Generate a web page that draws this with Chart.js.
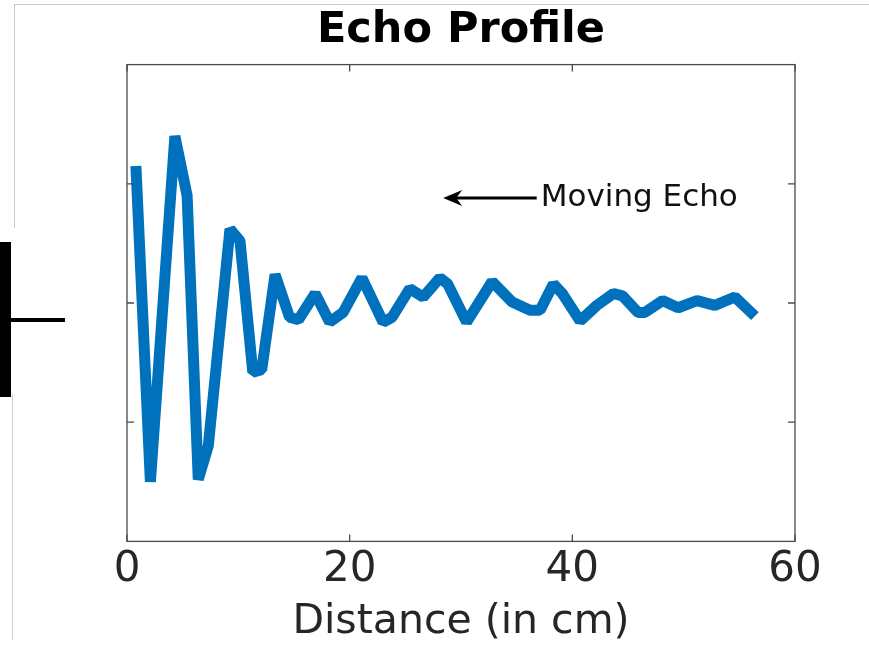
<!DOCTYPE html>
<html>
<head>
<meta charset="utf-8">
<title>Echo Profile</title>
<script src="https://cdn.jsdelivr.net/npm/chart.js@4.4.1/dist/chart.umd.min.js"></script>
<style>
  html, body { margin: 0; padding: 0; background: #fff; }
  #wrap { position: relative; width: 869px; height: 647px; overflow: hidden; }
  #echoChart { position: absolute; left: 0; top: 0; }
  .deco { position: absolute; }
</style>
</head>
<body>
<div id="wrap">
  <canvas id="echoChart" width="869" height="647"></canvas>
  <!-- bords du cadre voisin, à gauche -->
  <div class="deco" style="left:14px; top:4px; width:855px; height:1px; background:#c9c9c9;"></div>
  <div class="deco" style="left:14px; top:4px; width:1px; height:224px; background:#c9c9c9;"></div>
  <div class="deco" style="left:12px; top:394px; width:1px; height:246px; background:#cfcfcf;"></div>
  <div class="deco" style="left:0; top:242px; width:11px; height:155px; background:#000;"></div>
  <div class="deco" style="left:0; top:318px; width:65px; height:4px; background:#000;"></div>
</div>
<script>
// Données du profil d'écho
const distance = [0.8, 2.1, 4.3, 5.4, 6.4, 7.3, 9.25, 10.15, 11.3, 12.1, 13.3, 14.6, 15.4, 16.9, 18.2, 19.4,
  21.1, 23.0, 23.8, 25.4, 26.6, 28.1, 28.8, 30.5, 32.8, 34.6, 36.2, 37.1, 38.3, 39.1, 40.7, 42.2,
  43.7, 44.5, 45.9, 46.5, 48.1, 49.5, 51.2, 52.8, 54.6, 56.4];
const echo = [0.575, -0.75, 0.70, 0.45, -0.74, -0.60, 0.31, 0.26, -0.29, -0.28, 0.12, -0.06, -0.07, 0.04, -0.08, -0.04,
  0.105, -0.08, -0.06, 0.06, 0.025, 0.105, 0.08, -0.08, 0.09, 0.004, -0.03, -0.03, 0.08, 0.04, -0.075, -0.01,
  0.04, 0.03, -0.04, -0.04, 0.01, -0.02, 0.01, -0.01, 0.025, -0.055];

// Graduations
const xTicks = [0, 20, 40, 60];
const yTicks = [-0.5, 0, 0.5];

// Annotation "Moving Echo" (en unités des axes)
const arrowTail = [36.8, 0.44];
const arrowTip = [28.4, 0.44];
const arrowLabel = 'Moving Echo';

Chart.defaults.font.family = 'DejaVu Sans';

// Cadre et graduations vers l'intérieur, plus la flèche
const cadre = {
  id: 'cadre',
  afterDraw(chart) {
    const { ctx, chartArea: a, scales: { x, y } } = chart;
    ctx.save();
    ctx.strokeStyle = '#4a4a4a';
    ctx.lineWidth = 1.3;
    ctx.strokeRect(a.left, a.top, a.right - a.left, a.bottom - a.top);
    ctx.beginPath();
    xTicks.forEach(v => {
      const px = x.getPixelForValue(v);
      ctx.moveTo(px, a.bottom); ctx.lineTo(px, a.bottom - 7);
      ctx.moveTo(px, a.top); ctx.lineTo(px, a.top + 7);
    });
    yTicks.forEach(v => {
      const py = y.getPixelForValue(v);
      ctx.moveTo(a.left, py); ctx.lineTo(a.left + 7, py);
      ctx.moveTo(a.right, py); ctx.lineTo(a.right - 7, py);
    });
    ctx.stroke();

    // flèche
    const x0 = x.getPixelForValue(arrowTail[0]);
    const x1 = x.getPixelForValue(arrowTip[0]);
    const yy = y.getPixelForValue(arrowTip[1]);
    ctx.strokeStyle = '#000';
    ctx.fillStyle = '#000';
    ctx.lineWidth = 3;
    ctx.beginPath();
    ctx.moveTo(x0, yy);
    ctx.lineTo(x1 + 8, yy);
    ctx.stroke();
    ctx.beginPath();
    ctx.moveTo(x1, yy);
    ctx.lineTo(x1 + 19, yy - 8);
    ctx.lineTo(x1 + 13, yy);
    ctx.lineTo(x1 + 19, yy + 8);
    ctx.closePath();
    ctx.fill();

    ctx.font = '31px "DejaVu Sans"';
    ctx.textBaseline = 'alphabetic';
    ctx.textAlign = 'left';
    ctx.fillStyle = '#111';
    ctx.fillText(arrowLabel, x0 + 4, yy + 8);
    ctx.restore();
  }
};

const ctx = document.getElementById('echoChart').getContext('2d');
new Chart(ctx, {
  type: 'scatter',
  data: {
    datasets: [{
      label: 'Echo',
      data: distance.map((d, i) => ({ x: d, y: echo[i] })),
      showLine: true,
      borderColor: '#0072BD',
      borderWidth: 11,
      borderJoinStyle: 'bevel',
      pointRadius: 0,
      tension: 0,
      fill: false
    }]
  },
  options: {
    responsive: false,
    animation: false,
    devicePixelRatio: 1,
    layout: { padding: { left: 127, right: 74, top: 5, bottom: 0 } },
    plugins: {
      legend: { display: false },
      tooltip: { enabled: false },
      title: {
        display: true,
        text: 'Echo Profile',
        color: '#000',
        font: { size: 43, weight: 'bold' },
        padding: { top: 0, bottom: 8 }
      }
    },
    scales: {
      x: {
        type: 'linear',
        min: 0,
        max: 60,
        afterBuildTicks: s => { s.ticks = xTicks.map(v => ({ value: v })); },
        grid: { display: false, drawTicks: false },
        border: { display: false },
        ticks: { color: '#262626', font: { size: 42 }, padding: 3 },
        title: {
          display: true,
          text: 'Distance (in cm)',
          color: '#262626',
          font: { size: 41 },
          padding: 0
        }
      },
      y: {
        type: 'linear',
        display: false,
        min: -1,
        max: 1
      }
    }
  },
  plugins: [cadre]
});
</script>
</body>
</html>
